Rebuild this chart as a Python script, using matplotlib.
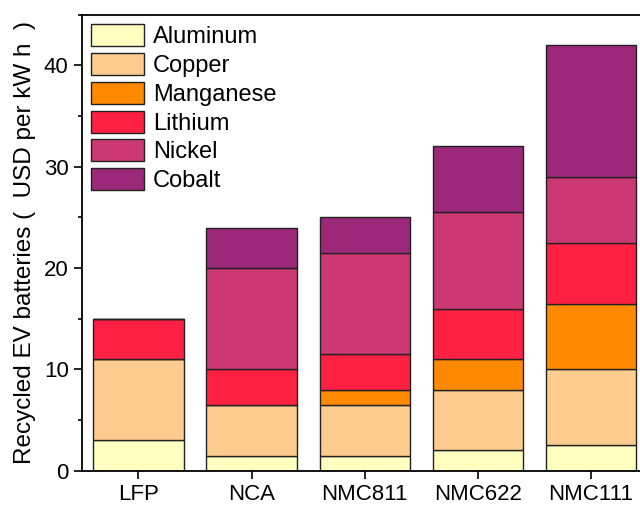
import matplotlib
matplotlib.use('Agg')
import matplotlib.pyplot as plt
from matplotlib.ticker import MultipleLocator
import numpy as np

plt.rcParams['font.family'] = ['Liberation Sans', 'DejaVu Sans']

batteries = ['LFP', 'NCA', 'NMC811', 'NMC622', 'NMC111']
metals = ['Aluminum', 'Copper', 'Manganese', 'Lithium', 'Nickel', 'Cobalt']

# USD per kW h, per metal, per battery chemistry
aluminum = [3, 1.5, 1.5, 2, 2.5]
copper = [8, 5, 5, 6, 7.5]
manganese = [0, 0, 1.5, 3, 6.5]
lithium = [4, 3.5, 3.5, 5, 6]
nickel = [0, 10, 10, 9.5, 6.5]
cobalt = [0, 4, 3.5, 6.5, 13]

colors = ['#FFFFC0', '#FECC8E', '#FF8A00', '#FF2042', '#CC3872', '#9B2878']

fig = plt.figure(figsize=(6.4, 5.08), dpi=100)
ax = fig.add_axes([0.128, 0.0734, 0.884, 0.8976])

x = np.arange(len(batteries))
bottom = np.zeros(len(batteries))
for name, vals, c in zip(metals, [aluminum, copper, manganese, lithium, nickel, cobalt], colors):
    vals = np.array(vals, dtype=float)
    ax.bar(x, vals, 0.8, bottom=bottom, color=c, edgecolor='#222222',
           linewidth=1.0, label=name)
    bottom += vals

ax.set_xlim(-0.5, 4.5)
ax.set_ylim(0, 45)
ax.set_xticks(x)
ax.set_xticklabels(batteries)
ax.yaxis.set_major_locator(MultipleLocator(10))
ax.yaxis.set_minor_locator(MultipleLocator(5))
ax.tick_params(axis='both', which='both', direction='out', labelsize=16, width=1.2)
ax.tick_params(axis='both', which='major', length=6)
ax.tick_params(axis='y', which='minor', length=3)
for s in ax.spines.values():
    s.set_linewidth(1.3)
ax.set_ylabel('Recycled EV batteries (  USD per kW h  )', fontsize=17.5, labelpad=6)

ax.legend(loc='upper left', frameon=False, fontsize=17,
          handlelength=2.25, handleheight=1.06, labelspacing=0.2,
          handletextpad=0.35, borderaxespad=0.3, borderpad=0.1)

fig.savefig('out.png', dpi=100)
